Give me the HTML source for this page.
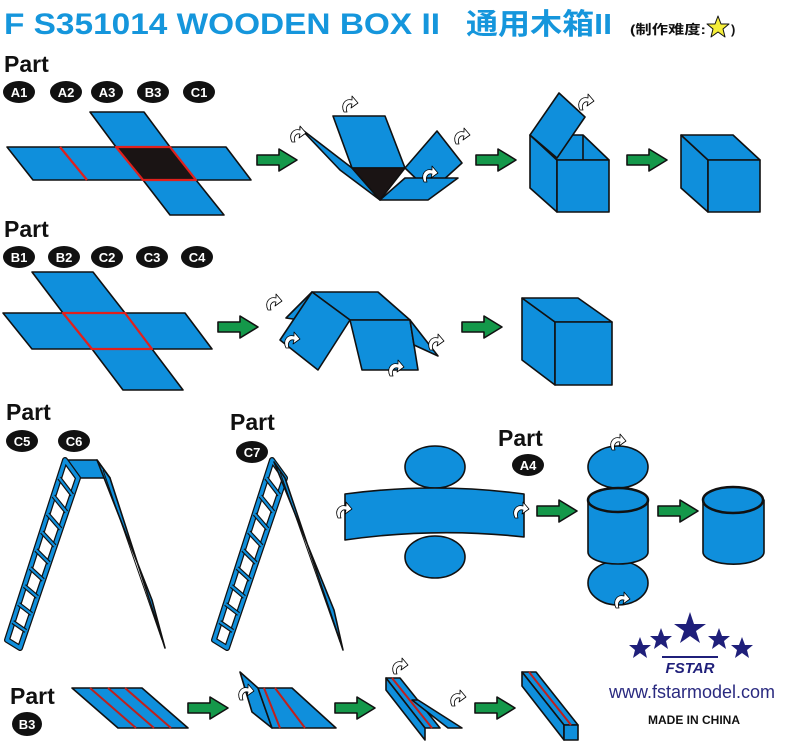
<!DOCTYPE html>
<html><head><meta charset="utf-8"><style>
html,body{margin:0;padding:0;background:#fff;}
svg{display:block}
text{font-family:"Liberation Sans","Noto Sans CJK SC",sans-serif;}
</style></head><body>
<svg width="800" height="746" viewBox="0 0 800 746" xmlns="http://www.w3.org/2000/svg">
<defs>
<g id="arr"><polygon points="0,-5 22,-5 22,-11 40,0 22,11 22,5 0,5" fill="#14984a"/></g>
<g id="curl"><path d="M0,10 C-4,2 2,-4 8,-2 L8,-6 L14,1 L7,6 L8,2 C4,1 1,5 3,10 Z" fill="#fff" stroke="#000" stroke-width="0.8"/></g>
</defs>
<g fill="#0f8fdc" stroke="#111" stroke-width="1.6" stroke-linejoin="round">

<!-- Title -->
<text x="4" y="34" font-size="30" font-weight="bold" fill="#1596dc" stroke="none" textLength="436" lengthAdjust="spacingAndGlyphs">F S351014 WOODEN BOX II</text>
<text x="466" y="34" font-size="29" font-weight="bold" fill="#1596dc" stroke="none" textLength="146" lengthAdjust="spacingAndGlyphs">通用木箱II</text>
<text x="630" y="34" font-size="13" font-weight="bold" fill="#111" stroke="none" textLength="76" lengthAdjust="spacingAndGlyphs">(制作难度:</text>
<polygon points="718,16 721,24 729,24 723,29 725,37 718,32 711,37 713,29 707,24 715,24" fill="#f5ee3a" stroke="#111" stroke-width="1"/>
<text x="731" y="34" font-size="13" font-weight="bold" fill="#111" stroke="none">)</text>

<!-- Row 1 -->
<text x="4" y="72" font-size="23" font-weight="bold" fill="#111" stroke="none">Part</text>
<g stroke="none">
<ellipse cx="19" cy="92" rx="16" ry="11" fill="#111"/><text x="19" y="97" font-size="13" font-weight="bold" fill="#fff" text-anchor="middle">A1</text>
<ellipse cx="66" cy="92" rx="16" ry="11" fill="#111"/><text x="66" y="97" font-size="13" font-weight="bold" fill="#fff" text-anchor="middle">A2</text>
<ellipse cx="107" cy="92" rx="16" ry="11" fill="#111"/><text x="107" y="97" font-size="13" font-weight="bold" fill="#fff" text-anchor="middle">A3</text>
<ellipse cx="153" cy="92" rx="16" ry="11" fill="#111"/><text x="153" y="97" font-size="13" font-weight="bold" fill="#fff" text-anchor="middle">B3</text>
<ellipse cx="199" cy="92" rx="16" ry="11" fill="#111"/><text x="199" y="97" font-size="13" font-weight="bold" fill="#fff" text-anchor="middle">C1</text>
</g>
<polygon points="90,112 144,112 170,147 116,147"/>
<polygon points="7,147 60,147 87,180 33,180"/>
<polygon points="60,147 116,147 143,180 87,180"/>
<polygon points="170,147 226,147 251,180 196,180"/>
<polygon points="143,180 196,180 224,215 170,215"/>
<polygon points="116,147 170,147 196,180 143,180" fill="#1a1414" stroke="#e0201c" stroke-width="2.2"/>
<line x1="60" y1="147" x2="87" y2="180" stroke="#e0201c" stroke-width="2.2"/>
<use href="#arr" x="257" y="160"/>
<!-- fold 1 -->
<polygon points="300,128 352,168 380,200 340,170"/>
<polygon points="333,116 385,116 405,168 352,168"/>
<polygon points="352,168 405,168 380,200" fill="#1a1414"/>
<polygon points="405,168 437,131 462,163 430,192"/>
<polygon points="380,200 405,178 458,178 428,200"/>
<use href="#curl" x="344" y="102"/>
<use href="#curl" x="292" y="132"/>
<use href="#curl" x="456" y="134"/>
<use href="#curl" x="424" y="172"/>
<use href="#arr" x="476" y="160"/>
<!-- open box -->
<polygon points="530,135 557,160 557,212 530,188"/>
<polygon points="530,135 583,135 609,160 557,160"/>
<line x1="583" y1="135" x2="583" y2="160"/>
<rect x="557" y="160" width="52" height="52"/>
<polygon points="530,135 559,93 585,117 557,158"/>
<use href="#curl" x="580" y="100"/>
<use href="#arr" x="627" y="160"/>
<!-- cube 1 -->
<polygon points="681,135 708,160 708,212 681,188"/>
<polygon points="681,135 733,135 760,160 708,160"/>
<rect x="708" y="160" width="52" height="52"/>

<!-- Row 2 -->
<text x="4" y="237" font-size="23" font-weight="bold" fill="#111" stroke="none">Part</text>
<g stroke="none">
<ellipse cx="19" cy="257" rx="16" ry="11" fill="#111"/><text x="19" y="262" font-size="13" font-weight="bold" fill="#fff" text-anchor="middle">B1</text>
<ellipse cx="64" cy="257" rx="16" ry="11" fill="#111"/><text x="64" y="262" font-size="13" font-weight="bold" fill="#fff" text-anchor="middle">B2</text>
<ellipse cx="107" cy="257" rx="16" ry="11" fill="#111"/><text x="107" y="262" font-size="13" font-weight="bold" fill="#fff" text-anchor="middle">C2</text>
<ellipse cx="152" cy="257" rx="16" ry="11" fill="#111"/><text x="152" y="262" font-size="13" font-weight="bold" fill="#fff" text-anchor="middle">C3</text>
<ellipse cx="197" cy="257" rx="16" ry="11" fill="#111"/><text x="197" y="262" font-size="13" font-weight="bold" fill="#fff" text-anchor="middle">C4</text>
</g>
<polygon points="32,272 93,272 125,313 63,313"/>
<polygon points="3,313 63,313 92,349 32,349"/>
<polygon points="125,313 185,313 212,349 152,349"/>
<polygon points="92,349 152,349 183,390 123,390"/>
<polygon points="63,313 125,313 152,349 92,349" stroke="#e0201c" stroke-width="2.2"/>
<use href="#arr" x="218" y="327"/>
<!-- fold 2 -->
<polygon points="312,292 286,318 300,320"/>
<polygon points="312,292 378,292 410,320 350,320"/>
<polygon points="312,292 350,320 318,370 280,340"/>
<polygon points="350,320 410,320 418,370 362,370"/>
<polygon points="410,320 438,356 414,345"/>
<use href="#curl" x="268" y="300"/>
<use href="#curl" x="286" y="338"/>
<use href="#curl" x="390" y="366"/>
<use href="#curl" x="430" y="340"/>
<use href="#arr" x="462" y="327"/>
<!-- cube 2 -->
<polygon points="522,298 555,322 555,385 522,360"/>
<polygon points="522,298 578,298 612,322 555,322"/>
<rect x="555" y="322" width="57" height="63"/>

<!-- Row 3 ladders -->
<text x="6" y="420" font-size="23" font-weight="bold" fill="#111" stroke="none">Part</text>
<g stroke="none">
<ellipse cx="22" cy="441" rx="16" ry="11" fill="#111"/><text x="22" y="446" font-size="13" font-weight="bold" fill="#fff" text-anchor="middle">C5</text>
<ellipse cx="74" cy="441" rx="16" ry="11" fill="#111"/><text x="74" y="446" font-size="13" font-weight="bold" fill="#fff" text-anchor="middle">C6</text>
</g>
<polygon points="65,460 97,460 110,478 78,478"/>
<polygon points="65,460 78,478 20,648 7,640" fill="none" stroke="#111" stroke-width="6"/>
<polygon points="65,460 78,478 20,648 7,640" fill="none" stroke="#0f8fdc" stroke-width="3.5"/>
<g stroke="#111" stroke-width="4.5">
<line x1="59.2" y1="478" x2="72.2" y2="495"/><line x1="53.4" y1="496" x2="66.4" y2="512"/><line x1="47.6" y1="514" x2="60.6" y2="529"/><line x1="41.8" y1="532" x2="54.8" y2="546"/><line x1="36" y1="550" x2="49" y2="563"/><line x1="30.2" y1="568" x2="43.2" y2="580"/><line x1="24.4" y1="586" x2="37.4" y2="597"/><line x1="18.6" y1="604" x2="31.6" y2="614"/><line x1="12.8" y1="622" x2="25.8" y2="631"/>
</g>
<g stroke="#0f8fdc" stroke-width="2.2">
<line x1="59.2" y1="478" x2="72.2" y2="495"/><line x1="53.4" y1="496" x2="66.4" y2="512"/><line x1="47.6" y1="514" x2="60.6" y2="529"/><line x1="41.8" y1="532" x2="54.8" y2="546"/><line x1="36" y1="550" x2="49" y2="563"/><line x1="30.2" y1="568" x2="43.2" y2="580"/><line x1="24.4" y1="586" x2="37.4" y2="597"/><line x1="18.6" y1="604" x2="31.6" y2="614"/><line x1="12.8" y1="622" x2="25.8" y2="631"/>
</g>
<polygon points="97,460 110,478 165,648 152,600" fill="#0f8fdc"/>
<line x1="103" y1="470" x2="162" y2="640" stroke-width="1"/>

<text x="230" y="430" font-size="23" font-weight="bold" fill="#111" stroke="none">Part</text>
<ellipse cx="252" cy="452" rx="16" ry="11" fill="#111" stroke="none"/><text x="252" y="457" font-size="13" font-weight="bold" fill="#fff" text-anchor="middle" stroke="none">C7</text>
<polygon points="272,460 285,478 227,648 214,640" fill="none" stroke="#111" stroke-width="6"/>
<polygon points="272,460 285,478 227,648 214,640" fill="none" stroke="#0f8fdc" stroke-width="3.5"/>
<g stroke="#111" stroke-width="4.5">
<line x1="266.2" y1="478" x2="279.2" y2="495"/><line x1="260.4" y1="496" x2="273.4" y2="512"/><line x1="254.6" y1="514" x2="267.6" y2="529"/><line x1="248.8" y1="532" x2="261.8" y2="546"/><line x1="243" y1="550" x2="256" y2="563"/><line x1="237.2" y1="568" x2="250.2" y2="580"/><line x1="231.4" y1="586" x2="244.4" y2="597"/><line x1="225.6" y1="604" x2="238.6" y2="614"/><line x1="219.8" y1="622" x2="232.8" y2="631"/>
</g>
<g stroke="#0f8fdc" stroke-width="2.2">
<line x1="266.2" y1="478" x2="279.2" y2="495"/><line x1="260.4" y1="496" x2="273.4" y2="512"/><line x1="254.6" y1="514" x2="267.6" y2="529"/><line x1="248.8" y1="532" x2="261.8" y2="546"/><line x1="243" y1="550" x2="256" y2="563"/><line x1="237.2" y1="568" x2="250.2" y2="580"/><line x1="231.4" y1="586" x2="244.4" y2="597"/><line x1="225.6" y1="604" x2="238.6" y2="614"/><line x1="219.8" y1="622" x2="232.8" y2="631"/>
</g>
<polygon points="274,462 285,478 343,650 334,610" fill="#0f8fdc"/>
<line x1="280" y1="472" x2="340" y2="642" stroke-width="1"/>

<!-- cylinder net -->
<ellipse cx="435" cy="467" rx="30" ry="21"/>
<ellipse cx="435" cy="557" rx="30" ry="21"/>
<path d="M345,494 Q435,482 524,494 L524,537 Q435,527 345,540 Z"/>
<use href="#curl" x="338" y="508"/>
<use href="#curl" x="515" y="508"/>
<text x="498" y="446" font-size="23" font-weight="bold" fill="#111" stroke="none">Part</text>
<ellipse cx="528" cy="465" rx="16" ry="11" fill="#111" stroke="none"/><text x="528" y="470" font-size="13" font-weight="bold" fill="#fff" text-anchor="middle" stroke="none">A4</text>
<use href="#arr" x="537" y="511"/>
<ellipse cx="618" cy="467" rx="30" ry="21"/>
<ellipse cx="618" cy="583" rx="30" ry="22"/>
<path d="M588,500 L588,552 A30,12 0 0 0 648,552 L648,500 Z"/>
<ellipse cx="618" cy="500" rx="30" ry="12" stroke-width="2.5"/>
<use href="#curl" x="612" y="440"/>
<use href="#curl" x="616" y="598"/>
<use href="#arr" x="658" y="511"/>
<path d="M703,500 L703,552 A30,12 0 0 0 764,552 L764,500 Z"/>
<ellipse cx="733" cy="500" rx="30" ry="13" stroke-width="2.5"/>

<!-- logo -->
<g fill="#1f1f7a" stroke="none">
<polygon points="690,612 694,624 706,624 696,631 700,643 690,636 680,643 684,631 674,624 686,624"/>
<polygon points="661,628 664,636 672,636 666,641 668,649 661,644 654,649 656,641 650,636 658,636"/>
<polygon points="719,628 722,636 730,636 724,641 726,649 719,644 712,649 714,641 708,636 716,636"/>
<polygon points="640,637 643,645 651,645 645,650 647,658 640,653 633,658 635,650 629,645 637,645"/>
<polygon points="742,637 745,645 753,645 747,650 749,658 742,653 735,658 737,650 731,645 739,645"/>
<rect x="662" y="656" width="56" height="2"/>
<text x="690" y="673" font-size="15" font-weight="bold" font-style="italic" text-anchor="middle">FSTAR</text>
<text x="692" y="698" font-size="18" text-anchor="middle" fill="#2a2a80">www.fstarmodel.com</text>
<text x="694" y="724" font-size="12" font-weight="bold" text-anchor="middle" fill="#111">MADE IN CHINA</text>
</g>

<!-- bottom row -->
<text x="10" y="704" font-size="23" font-weight="bold" fill="#111" stroke="none">Part</text>
<ellipse cx="27" cy="724" rx="15" ry="12" fill="#111" stroke="none"/><text x="27" y="729" font-size="13" font-weight="bold" fill="#fff" text-anchor="middle" stroke="none">B3</text>
<polygon points="72,688 142,688 188,728 118,728"/>
<g stroke="#c0201c" stroke-width="2"><line x1="90" y1="688" x2="136" y2="728"/><line x1="108" y1="688" x2="154" y2="728"/><line x1="125" y1="688" x2="171" y2="728"/></g>
<use href="#arr" x="188" y="708"/>
<polygon points="240,672 258,688 272,728 252,712"/>
<polygon points="258,688 292,688 336,728 272,728"/>
<g stroke="#c0201c" stroke-width="2"><line x1="264" y1="688" x2="280" y2="728"/><line x1="275" y1="688" x2="305" y2="728"/></g>
<use href="#curl" x="240" y="690"/>
<use href="#arr" x="335" y="708"/>
<polygon points="386,678 400,678 440,728 425,728"/>
<polygon points="386,678 386,690 425,740 425,728"/>
<polygon points="412,700 418,700 462,728 448,728"/>
<line x1="392" y1="678" x2="432" y2="728" stroke="#c0201c" stroke-width="2"/>
<use href="#curl" x="394" y="664"/>
<use href="#curl" x="452" y="696"/>
<use href="#arr" x="475" y="708"/>
<polygon points="522,672 536,672 578,725 564,725"/>
<polygon points="522,672 522,686 564,740 564,725"/>
<polygon points="564,725 578,725 578,740 564,740"/>
<line x1="529" y1="672" x2="571" y2="725" stroke="#c0201c" stroke-width="2"/>
</g>
</svg>
</body></html>
